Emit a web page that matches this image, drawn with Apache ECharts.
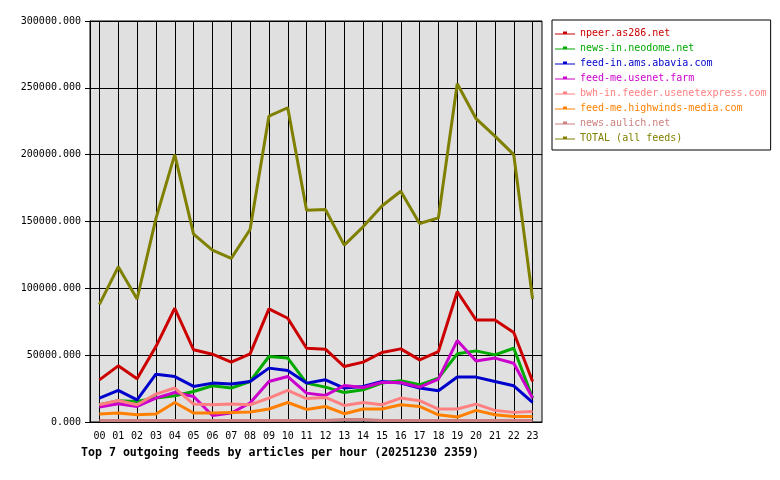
<!DOCTYPE html>
<html>
<head>
<meta charset="utf-8">
<script src="https://cdn.jsdelivr.net/npm/echarts@6/dist/echarts.min.js"></script>
<style>
html,body{margin:0;padding:0;background:#fff;}
#chart{width:780px;height:480px;}
</style>
</head>
<body>
<div id="chart"></div>
<script>
const hours = ['00','01','02','03','04','05','06','07','08','09','10','11','12','13','14','15','16','17','18','19','20','21','22','23'];
const yTicks = [0, 50000, 100000, 150000, 200000, 250000, 300000];

const npeer      = [31500, 42000, 32300, 56400, 85100, 54000, 50700, 44800, 51000, 84600, 77600, 55200, 54500, 41500, 44800, 52000, 54700, 46500, 52700, 97500, 76300, 76300, 66900, 30300];
const neodome    = [12900, 15900, 15400, 17900, 19600, 22800, 27100, 25400, 30300, 49000, 47800, 29100, 26100, 22100, 24100, 29100, 30800, 27800, 32800, 51000, 53200, 50200, 55200, 17900];
const abavia     = [17900, 23600, 16600, 35800, 34000, 26600, 29100, 28400, 30300, 40300, 38500, 29100, 31600, 25400, 26600, 30300, 29100, 25400, 23400, 33600, 33600, 30300, 27100, 14600];
const usenetfarm = [11200, 13700, 11600, 17900, 22100, 19100, 4900, 6700, 14200, 30300, 34000, 21600, 19900, 27300, 25800, 29600, 29600, 26100, 32100, 60900, 45700, 47800, 44000, 17900];
const usenetexpress = [12900, 16100, 12900, 20900, 25400, 13400, 12900, 13400, 12900, 17900, 23600, 17500, 18400, 12400, 14600, 12900, 17900, 15900, 9700, 9700, 13400, 8700, 7200, 7900];
const highwinds  = [6000, 6700, 5400, 6000, 14600, 6700, 6700, 7200, 7500, 9700, 14600, 9400, 11600, 6200, 9700, 9700, 12900, 11600, 5400, 3700, 8700, 5400, 4200, 4200];
const aulich     = [1200, 1200, 1200, 1200, 1200, 1200, 1200, 1200, 1200, 1200, 1200, 1200, 1200, 1800, 1800, 1200, 1200, 1200, 1200, 1200, 1200, 1200, 1200, 1200];
const total      = [88000, 116100, 92000, 152200, 200000, 140500, 128600, 122400, 144000, 228800, 235100, 158400, 159000, 132300, 146000, 161600, 172600, 148500, 152700, 253000, 226900, 213900, 200000, 92000];

const seriesNames = ['npeer.as286.net','news-in.neodome.net','feed-in.ams.abavia.com','feed-me.usenet.farm','bwh-in.feeder.usenetexpress.com','feed-me.highwinds-media.com','news.aulich.net','TOTAL (all feeds)'];
const seriesData = [npeer, neodome, abavia, usenetfarm, usenetexpress, highwinds, aulich, total];
const colors = ['#cc0000','#00aa00','#0000cc','#cc00cc','#ff8080','#ff8000','#cc8080','#808000'];

const FONT = '"DejaVu Sans Mono", monospace';
const chart = echarts.init(document.getElementById('chart'), null, {renderer:'canvas'});
const icon = 'path://M0,5L8,5L8,3L12,3L12,5L20,5L20,6L0,6Z';

chart.setOption({
  animation: false,
  backgroundColor: '#ffffff',
  title: {
    text: 'Top 7 outgoing feeds by articles per hour (20251230 2359)',
    left: 76, top: 442,
    textStyle: {fontFamily: FONT, fontSize: 11.6, fontWeight: 'bold', color: '#000'}
  },
  legend: {
    orient: 'vertical',
    left: 552, top: 20,
    padding: [7, 4, 6, 3],
    borderColor: '#000', borderWidth: 1,
    itemWidth: 20, itemHeight: 12, itemGap: 3,
    selectedMode: false,
    data: seriesNames.map((n, i) => ({name: n, icon: icon, itemStyle: {color: colors[i]}, textStyle: {color: colors[i]}})),
    textStyle: {fontFamily: FONT, fontSize: 10, lineHeight: 12}
  },
  grid: {
    left: 90, right: 238, top: 21, bottom: 58,
    show: true, backgroundColor: '#e0e0e0', borderColor: '#000', borderWidth: 1
  },
  xAxis: {
    type: 'category', data: hours, boundaryGap: true,
    axisLine: {lineStyle: {color: '#000', width: 1}},
    axisTick: {alignWithLabel: true, length: 5, lineStyle: {color: '#000'}},
    axisLabel: {interval: 0, margin: 9, color: '#000', fontFamily: FONT, fontSize: 10},
    splitLine: {show: true, alignWithLabel: true, interval: 0, lineStyle: {color: '#000', width: 1}}
  },
  yAxis: {
    type: 'value', min: yTicks[0], max: yTicks[yTicks.length-1], interval: 50000,
    axisLine: {show: true, lineStyle: {color: '#000', width: 1}},
    axisTick: {show: true, length: 5, lineStyle: {color: '#000'}},
    axisLabel: {margin: 9, color: '#000', fontFamily: FONT, fontSize: 10, formatter: v => v.toFixed(3)},
    splitLine: {show: true, lineStyle: {color: '#000', width: 1}}
  },
  series: seriesNames.map((n, i) => ({
    name: n, type: 'line', data: seriesData[i],
    showSymbol: false, symbol: 'none',
    lineStyle: {color: colors[i], width: 3},
    itemStyle: {color: colors[i]},
    emphasis: {disabled: true}
  }))
});
</script>
</body>
</html>
